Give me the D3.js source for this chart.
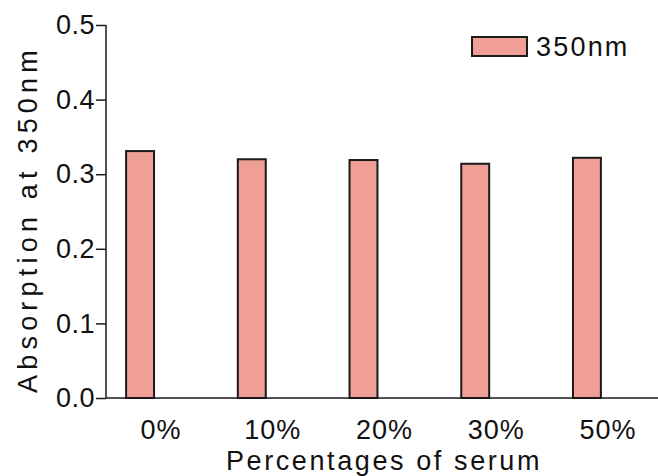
<!DOCTYPE html>
<html>
<head>
<meta charset="utf-8">
<script src="https://cdn.jsdelivr.net/npm/d3@7"></script>
<style>
	body { margin: 0; background: #fff; }
	text { font-family: "Liberation Sans", Arial, sans-serif; fill: #111; }
</style>
</head>
<body>
<div id="chart"></div>
<script>
// data
var categories = ['0%', '10%', '20%', '30%', '50%'];
var values = [0.331, 0.320, 0.319, 0.314, 0.322];
var yTicks = [0.0, 0.1, 0.2, 0.3, 0.4, 0.5];
var seriesName = '350nm';

var width = 658;
var height = 476;

var axisX = 106;
var axisY = 398;

var svg = d3.select('#chart').append('svg')
	.attr('width', width)
	.attr('height', height)

var xScale = d3.scaleBand()
	.domain(categories)
	.range([axisX, 621])
	.paddingInner(0.75)
	.paddingOuter(0.18)

var yScale = d3.scaleLinear()
	.domain([0, 0.5])
	.range([axisY, 25])

// bars
svg.append('g')
	.selectAll('rect')
	.data(values)
	.enter().append('rect')
		.attr('x', function(d, i) { return xScale(categories[i]) })
		.attr('y', function(d) { return yScale(d) })
		.attr('width', xScale.bandwidth())
		.attr('height', function(d) { return axisY - yScale(d) })
		.style('fill', '#ef9f95')
		.style('stroke', '#1a1a1a')
		.style('stroke-width', 2)

// y axis
var yAxis = d3.axisLeft(yScale)
	.tickValues(yTicks)
	.tickFormat(d3.format('.1f'))
	.tickSize(10)
	.tickPadding(1)

var yGuide = svg.append('g')
	.attr('transform', 'translate(' + axisX + ',0)')
	.call(yAxis)
yGuide.select('.domain').remove()
yGuide.selectAll('line').style('stroke', '#1a1a1a').style('stroke-width', 1.5)
yGuide.selectAll('text')
	.style('font-size', '27px')
	.style('letter-spacing', '0.5px')
	.style('font-family', '"Liberation Sans", Arial, sans-serif')
	.style('fill', '#111')

svg.append('line')
	.attr('x1', axisX).attr('x2', axisX)
	.attr('y1', yScale(0.5)).attr('y2', axisY)
	.style('stroke', '#1a1a1a').style('stroke-width', 1.5)

// x axis
var xAxis = d3.axisBottom(xScale)
	.tickSize(0)
	.tickPadding(10)

var xGuide = svg.append('g')
	.attr('transform', 'translate(0,' + axisY + ')')
	.call(xAxis)
xGuide.select('.domain').remove()
xGuide.selectAll('text')
	.attr('dx', 21)
	.attr('y', 41)
	.attr('dy', 0)
	.style('font-size', '27px')
	.style('letter-spacing', '1px')
	.style('font-family', '"Liberation Sans", Arial, sans-serif')
	.style('fill', '#111')

svg.append('line')
	.attr('x1', axisX).attr('x2', width)
	.attr('y1', axisY).attr('y2', axisY)
	.style('stroke', '#1a1a1a').style('stroke-width', 1.5)

// axis titles
svg.append('text')
	.attr('x', 384)
	.attr('y', 470)
	.attr('text-anchor', 'middle')
	.style('font-size', '27px')
	.style('letter-spacing', '2.6px')
	.text('Percentages of serum')

svg.append('text')
	.attr('transform', 'translate(37,219) rotate(-90)')
	.attr('text-anchor', 'middle')
	.style('font-size', '27px')
	.style('letter-spacing', '5.2px')
	.text('Absorption at 350nm')

// legend
svg.append('rect')
	.attr('x', 472)
	.attr('y', 37)
	.attr('width', 55)
	.attr('height', 19)
	.style('fill', '#ef9f95')
	.style('stroke', '#1a1a1a')
	.style('stroke-width', 2)

svg.append('text')
	.attr('x', 536)
	.attr('y', 56)
	.style('font-size', '27px')
	.style('letter-spacing', '2.2px')
	.text(seriesName)
</script>
</body>
</html>
